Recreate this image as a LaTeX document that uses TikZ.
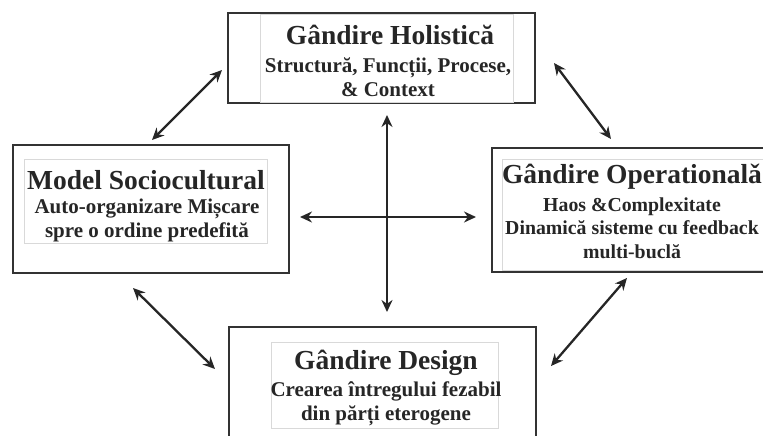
\documentclass[tikz,border=0pt]{standalone}
\usepackage{fontspec}
\setmainfont{Liberation Serif}
\usetikzlibrary{arrows.meta}
\begin{document}
\begin{tikzpicture}[x=1pt, y=-1pt,
  outerbox/.style={draw=black!80, line width=2pt, inner sep=0pt},
  innerbox/.style={draw=black!15, line width=0.8pt, inner sep=0pt},
  headtext/.style={font=\fontsize{27.5}{30}\selectfont\bfseries, text=black!85, inner sep=0pt},
  bodytext/.style={font=\fontsize{21}{24}\selectfont\bfseries, text=black!85, align=center, inner sep=0pt},
  link/.style={{Stealth[length=12pt,width=11pt]}-{Stealth[length=12pt,width=11pt]}, line width=2.3pt, draw=black!85}]
% Page frame
\clip (0,0) rectangle (763,436);

% Outer boxes
\node[outerbox, minimum width=307, minimum height=90] (holistic) at (381.5,58) {};
\node[outerbox, minimum width=276, minimum height=128] (socio) at (151,209) {};
\node[outerbox, minimum width=288, minimum height=124] (operational) at (636,210) {};
\node[outerbox, minimum width=307, minimum height=118] (design) at (382.5,386) {};

% Inner frames
\node[innerbox, minimum width=253, minimum height=88] (holisticin) at (386.5,58) {};
\node[innerbox, minimum width=243, minimum height=84] (socioin) at (145.5,201) {};
\node[innerbox, minimum width=273, minimum height=111] (operationalin) at (638.5,214.5) {};
\node[innerbox, minimum width=227, minimum height=86] (designin) at (384.5,385) {};

% Texts
\node[headtext] (holtitle) at (390,35) {Gândire Holistică};
\node[bodytext] (holsub) at (388,77) {Structură, Funcții, Procese,\\ \& Context};
\node[headtext] (soctitle) at (146,180) {Model Sociocultural};
\node[bodytext] (socsub) at (147,220) {Auto-organizare Mișcare\\ spre o ordine predefită};
\node[headtext] (optitle) at (632,177) {Gândire Operationalǎ};
\node[bodytext, font=\fontsize{19.8}{23.5}\selectfont\bfseries] (opsub) at (632,228) {Haos \&Complexitate\\ Dinamică sisteme cu feedback\\ multi-buclă};
\node[headtext] (destitle) at (386,363) {Gândire Design};
\node[bodytext] (dessub) at (386,404) {Crearea întregului fezabil\\ din părți eterogene};

% Arrow ends
\coordinate (crossN) at (387,115);
\coordinate (crossS) at (387,312);
\coordinate (crossW) at (300,217);
\coordinate (crossE) at (476,217);
\coordinate (nwA) at (152,140);
\coordinate (nwB) at (222,70);
\coordinate (neA) at (554,63);
\coordinate (neB) at (611,139);
\coordinate (swA) at (133,288);
\coordinate (swB) at (215,369);
\coordinate (seA) at (627,278);
\coordinate (seB) at (551,366);

% Arrows
\draw[link] (crossN) -- (crossS);
\draw[link] (crossW) -- (crossE);
\draw[link] (nwA) -- (nwB);
\draw[link] (neA) -- (neB);
\draw[link] (swA) -- (swB);
\draw[link] (seA) -- (seB);

\end{tikzpicture}
\end{document}
